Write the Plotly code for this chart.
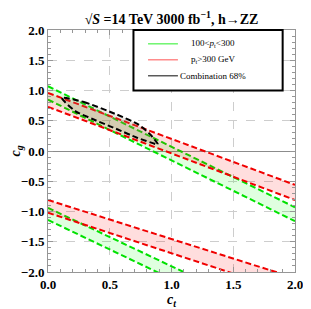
import numpy as np
import plotly.graph_objects as go

# ---- data ----
ct_ends = [0.0, 2.0]
# upper family of 68% bands: c_g at c_t = 0 and c_t = 2
green_up_hi = [1.07, -0.93]
green_up_lo = [0.85, -1.16]
red_up_hi = [0.96, -0.56]
red_up_lo = [0.73, -0.81]
# lower family of 68% bands
green_dn_hi = [-0.94, -2.87]
green_dn_lo = [-1.14, -3.09]
red_dn_hi = [-0.81, -2.10]
red_dn_lo = [-1.02, -2.36]

# combination 68% contour
comb_ct = [0.11, 0.29, 0.56, 0.73, 0.83, 0.89, 0.88, 0.72, 0.56, 0.37, 0.22, 0.11]
comb_cg = [0.88, 0.81, 0.60, 0.44, 0.27, 0.11, 0.11, 0.22, 0.36, 0.52, 0.66, 0.88]

legend_labels = ["100<<i>p</i><sub>t</sub><300", "p<sub>t</sub>>300 GeV", "Combination 68%"]

GREEN = "rgb(0,225,0)"
RED = "rgb(240,0,0)"
GREEN_FILL = "rgba(0,255,0,0.12)"
RED_FILL = "rgba(255,0,0,0.13)"
SERIF = "Liberation Serif, Times New Roman, serif"

fig = go.Figure()


def band(hi, lo, line_color, fill_color):
    xs = list(ct_ends) + list(ct_ends[::-1])
    ys = list(hi) + list(lo[::-1])
    fig.add_trace(go.Scatter(x=xs, y=ys, mode="none", fill="toself",
                             fillcolor=fill_color, hoverinfo="skip", showlegend=False))
    for yy in (hi, lo):
        fig.add_trace(go.Scatter(x=ct_ends, y=yy, mode="lines",
                                 line=dict(color=line_color, width=2, dash="6px,3px"),
                                 hoverinfo="skip", showlegend=False))


band(green_up_hi, green_up_lo, GREEN, GREEN_FILL)
band(red_up_hi, red_up_lo, RED, RED_FILL)
band(green_dn_hi, green_dn_lo, GREEN, GREEN_FILL)
band(red_dn_hi, red_dn_lo, RED, RED_FILL)

fig.add_trace(go.Scatter(x=comb_ct, y=comb_cg, mode="lines", fill="toself",
                         fillcolor="rgba(150,140,110,0.20)",
                         line=dict(color="black", width=2, dash="6px,3px", shape="spline", smoothing=0.6),
                         hoverinfo="skip", showlegend=False))

axis_common = dict(
    showgrid=True, gridcolor="rgb(205,205,205)", griddash="dash", gridwidth=1,
    ticks="inside", ticklen=5, tickcolor="rgb(150,150,150)", tickwidth=1,
    mirror="allticks", showline=True, linecolor="rgb(150,150,150)", linewidth=1,
    dtick=0.5, tickformat=".1f", automargin=False,
    tickfont=dict(family=SERIF, size=13, color="black", weight="bold"),
    minor=dict(ticks="inside", ticklen=3, dtick=0.1, tickcolor="rgb(150,150,150)", showgrid=False),
)

fig.update_xaxes(**axis_common, range=[0, 2], zeroline=False,
                 title=dict(text="<b><i>c<sub>t</sub></i></b>", font=dict(family=SERIF, size=14, color="black"),
                            standoff=2))
fig.update_yaxes(**axis_common, range=[-2, 2],
                 zeroline=True, zerolinecolor="rgb(140,140,140)", zerolinewidth=1)

# y-axis title placed as an annotation to match the reference position
fig.add_annotation(xref="paper", yref="paper", x=-0.128, y=0.5, text="<b><i>c<sub>g</sub></i></b>",
                   textangle=-90, showarrow=False, xanchor="center", yanchor="middle",
                   font=dict(family=SERIF, size=14, color="black"))

# legend box (paper coordinates)
box_x0, box_x1, box_y0, box_y1 = 0.346, 0.95, 0.75, 1.0
fig.add_shape(type="rect", xref="paper", yref="paper", x0=box_x0, x1=box_x1, y0=box_y0, y1=box_y1,
              line=dict(color="black", width=2), fillcolor="white", layer="above")
legend_colors = ["rgb(110,245,110)", "rgb(255,140,140)", "rgb(90,90,90)"]
for i, (lab, col) in enumerate(zip(legend_labels, legend_colors)):
    yy = 0.943 - i * 0.066
    fig.add_shape(type="line", xref="paper", yref="paper", x0=0.405, x1=0.526, y0=yy, y1=yy,
                  line=dict(color=col, width=1.5), layer="above")
    fig.add_annotation(xref="paper", yref="paper", x=0.67, y=yy, text=lab, showarrow=False,
                       xanchor="center", yanchor="middle",
                       font=dict(family=SERIF, size=9, color="black"))

fig.update_layout(
    width=303, height=301,
    margin=dict(l=40, r=16, t=22, b=37),
    plot_bgcolor="white", paper_bgcolor="white",
    title=dict(text="<b>√<i>S</i> =14 TeV 3000 fb<sup>−1</sup>, h→ZZ</b>",
               xref="paper", x=0.5, xanchor="center", y=0.962, yanchor="middle",
               font=dict(family=SERIF, size=14, color="black")),
    showlegend=False,
)

fig.write_html("out.html")
